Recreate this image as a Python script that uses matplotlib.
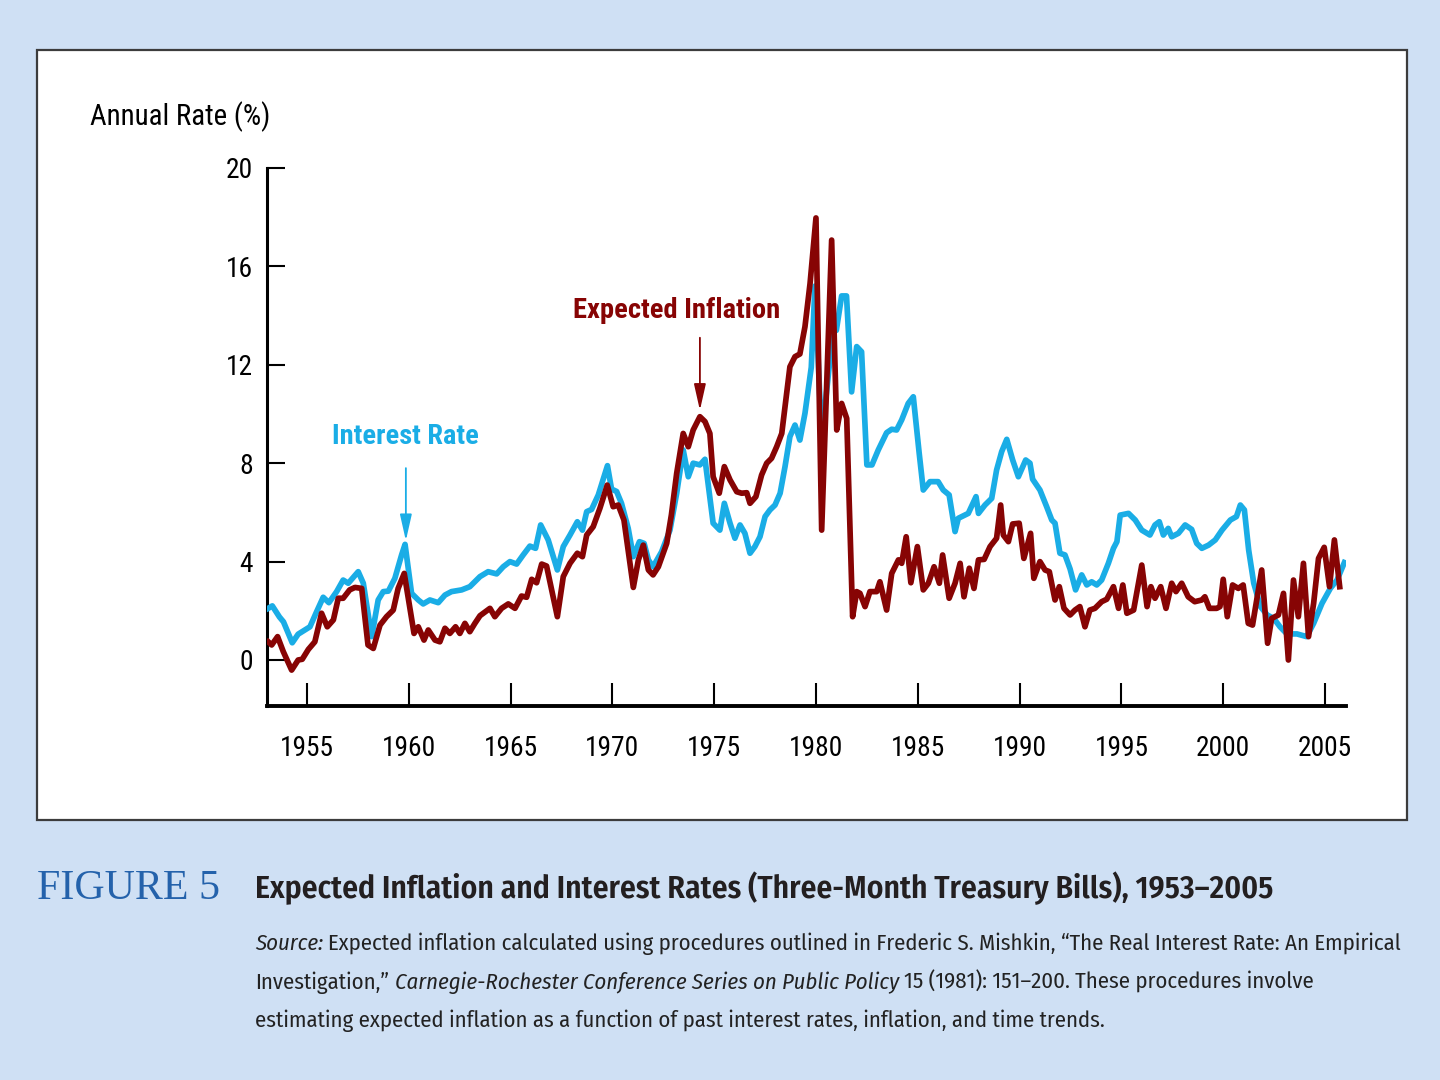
import matplotlib
matplotlib.use("Agg")
import matplotlib.pyplot as plt
from matplotlib import font_manager
from matplotlib.patches import Rectangle

# three-month T-bill rate (year, %)
int_years = [1953.1, 1953.3, 1953.65, 1953.85, 1954.28, 1954.57, 1955.15, 1955.47, 1955.8, 1956.08,
             1956.46, 1956.78, 1957.03, 1957.52, 1957.77, 1958.18, 1958.5, 1958.75, 1959.0, 1959.32,
             1959.65, 1959.82, 1960.14, 1960.47, 1960.71, 1961.04, 1961.45, 1961.78, 1962.1, 1962.6,
             1963.0, 1963.5, 1963.9, 1964.32, 1964.64, 1964.97, 1965.3, 1965.62, 1965.95, 1966.23,
             1966.48, 1966.85, 1967.3, 1967.59, 1967.92, 1968.28, 1968.53, 1968.74, 1968.98, 1969.31,
             1969.76, 1969.96, 1970.21, 1970.45, 1970.78, 1971.03, 1971.33, 1971.56, 1971.77, 1972.0,
             1972.42, 1972.83, 1973.16, 1973.48, 1973.73, 1973.97, 1974.3, 1974.55, 1974.95, 1975.28,
             1975.5, 1975.78, 1976.02, 1976.27, 1976.51, 1976.76, 1977.0, 1977.25, 1977.5, 1977.74,
             1977.99, 1978.24, 1978.48, 1978.72, 1978.97, 1979.21, 1979.46, 1979.77, 1979.95, 1980.28,
             1980.85, 1981.0, 1981.26, 1981.5, 1981.75, 1982.0, 1982.24, 1982.5, 1982.75, 1983.06,
             1983.47, 1983.72, 1983.96, 1984.21, 1984.53, 1984.78, 1985.07, 1985.27, 1985.6, 1986.0,
             1986.25, 1986.54, 1986.83, 1986.99, 1987.48, 1987.86, 1987.98, 1988.3, 1988.63, 1988.87,
             1989.12, 1989.37, 1989.66, 1989.94, 1990.3, 1990.51, 1990.64, 1991.0, 1991.33, 1991.58,
             1991.74, 1991.98, 1992.23, 1992.48, 1992.75, 1993.05, 1993.3, 1993.54, 1993.79, 1994.03,
             1994.36, 1994.61, 1994.78, 1994.94, 1995.35, 1995.68, 1996.0, 1996.4, 1996.65, 1996.86,
             1997.06, 1997.3, 1997.47, 1997.8, 1998.13, 1998.45, 1998.7, 1998.95, 1999.28, 1999.61,
             1999.94, 2000.35, 2000.65, 2000.84, 2001.04, 2001.25, 2001.5, 2001.83, 2002.16, 2002.48,
             2002.79, 2003.13, 2003.62, 2004.1, 2004.44, 2004.85, 2005.26, 2005.59, 2005.95]
int_rate = [2.10, 2.20, 1.75, 1.55, 0.70, 1.05, 1.35, 1.95, 2.55, 2.33,
            2.78, 3.25, 3.12, 3.59, 3.12, 0.95, 2.44, 2.78, 2.80, 3.32,
            4.27, 4.70, 2.71, 2.44, 2.28, 2.44, 2.33, 2.64, 2.78, 2.85,
            2.98, 3.39, 3.59, 3.50, 3.79, 4.00, 3.90, 4.27, 4.63, 4.54,
            5.49, 4.88, 3.66, 4.61, 5.08, 5.62, 5.28, 6.03, 6.12, 6.71,
            7.90, 6.95, 6.85, 6.37, 5.35, 4.20, 4.81, 4.74, 4.07, 3.79,
            4.40, 5.28, 6.78, 8.54, 7.45, 8.00, 7.93, 8.16, 5.56, 5.28,
            6.37, 5.56, 4.95, 5.49, 5.15, 4.34, 4.61, 5.01, 5.83, 6.10,
            6.30, 6.78, 7.86, 9.08, 9.55, 8.94, 10.03, 11.90, 15.20, 9.00,
            13.50, 13.40, 14.80, 14.80, 10.90, 12.74, 12.53, 7.93, 7.93, 8.54,
            9.24, 9.38, 9.35, 9.76, 10.43, 10.70, 8.40, 6.91, 7.25, 7.25,
            6.91, 6.71, 5.22, 5.76, 5.96, 6.64, 5.96, 6.30, 6.57, 7.72,
            8.47, 8.97, 8.13, 7.45, 8.13, 8.00, 7.35, 6.91, 6.23, 5.69,
            5.56, 4.34, 4.27, 3.70, 2.85, 3.46, 3.05, 3.18, 3.05, 3.25,
            3.93, 4.54, 4.81, 5.89, 5.96, 5.69, 5.28, 5.08, 5.49, 5.62,
            5.08, 5.35, 5.01, 5.15, 5.49, 5.31, 4.74, 4.54, 4.67, 4.88,
            5.28, 5.69, 5.83, 6.30, 6.10, 4.47, 3.12, 2.17, 1.83, 1.69,
            1.35, 1.06, 1.06, 0.95, 1.49, 2.30, 2.91, 3.25, 3.96]

# expected inflation (year, %)
inf_years = [1953.1, 1953.27, 1953.56, 1953.84, 1954.25, 1954.57, 1954.77, 1955.07, 1955.39, 1955.72,
             1956.0, 1956.3, 1956.54, 1956.78, 1957.1, 1957.36, 1957.69, 1958.0, 1958.26, 1958.59,
             1958.91, 1959.24, 1959.48, 1959.78, 1960.26, 1960.47, 1960.75, 1960.96, 1961.29, 1961.53,
             1961.78, 1962.02, 1962.3, 1962.51, 1962.76, 1963.0, 1963.25, 1963.5, 1963.99, 1964.23,
             1964.56, 1964.89, 1965.22, 1965.54, 1965.79, 1966.04, 1966.28, 1966.53, 1966.77, 1967.3,
             1967.59, 1967.92, 1968.28, 1968.53, 1968.74, 1969.06, 1969.39, 1969.75, 1970.04, 1970.29,
             1970.57, 1971.03, 1971.28, 1971.52, 1971.77, 1972.0, 1972.26, 1972.67, 1972.9, 1973.16,
             1973.48, 1973.73, 1973.97, 1974.3, 1974.55, 1974.79, 1974.95, 1975.25, 1975.5, 1975.78,
             1976.11, 1976.35, 1976.6, 1976.76, 1977.05, 1977.33, 1977.58, 1977.82, 1978.07, 1978.32,
             1978.48, 1978.72, 1978.97, 1979.21, 1979.46, 1979.71, 1980.0, 1980.28, 1980.77, 1981.02,
             1981.26, 1981.51, 1981.8, 1982.0, 1982.16, 1982.41, 1982.65, 1982.98, 1983.14, 1983.47,
             1983.72, 1984.05, 1984.21, 1984.43, 1984.66, 1984.98, 1985.27, 1985.52, 1985.8, 1986.06,
             1986.22, 1986.54, 1986.83, 1987.08, 1987.27, 1987.53, 1987.76, 1987.98, 1988.26, 1988.55,
             1988.87, 1989.07, 1989.2, 1989.45, 1989.66, 1989.98, 1990.21, 1990.54, 1990.7, 1991.0,
             1991.25, 1991.46, 1991.74, 1991.95, 1992.18, 1992.48, 1992.72, 1992.96, 1993.21, 1993.45,
             1993.7, 1994.03, 1994.28, 1994.61, 1994.86, 1995.07, 1995.27, 1995.6, 1996.0, 1996.26,
             1996.45, 1996.65, 1996.93, 1997.19, 1997.47, 1997.68, 1997.96, 1998.28, 1998.6, 1998.95,
             1999.1, 1999.32, 1999.68, 1999.84, 2000.0, 2000.2, 2000.46, 2000.74, 2000.98, 2001.23,
             2001.44, 2001.89, 2002.18, 2002.38, 2002.71, 2002.96, 2003.2, 2003.45, 2003.69, 2003.94,
             2004.19, 2004.44, 2004.68, 2004.96, 2005.22, 2005.46, 2005.72]
inf_rate = [0.74, 0.61, 0.95, 0.34, -0.41, 0.00, 0.03, 0.43, 0.74, 1.90,
            1.35, 1.63, 2.51, 2.51, 2.85, 2.95, 2.91, 0.61, 0.47, 1.42,
            1.76, 2.03, 2.91, 3.52, 1.08, 1.35, 0.81, 1.22, 0.81, 0.74,
            1.29, 1.08, 1.35, 1.08, 1.49, 1.15, 1.49, 1.80, 2.10, 1.76,
            2.10, 2.28, 2.10, 2.60, 2.55, 3.28, 3.14, 3.90, 3.82, 1.76,
            3.39, 3.93, 4.34, 4.20, 5.08, 5.42, 6.17, 7.11, 6.23, 6.30,
            5.69, 2.95, 4.07, 4.67, 3.66, 3.46, 3.79, 4.74, 5.90, 7.59,
            9.21, 8.67, 9.35, 9.89, 9.69, 9.21, 7.45, 6.78, 7.86, 7.32,
            6.84, 6.78, 6.80, 6.37, 6.64, 7.52, 8.00, 8.20, 8.67, 9.21,
            10.30, 11.92, 12.33, 12.44, 13.55, 15.31, 17.97, 5.28, 17.07, 9.35,
            10.43, 9.82, 1.76, 2.78, 2.71, 2.17, 2.78, 2.78, 3.18, 2.03,
            3.52, 4.07, 3.93, 5.01, 3.14, 4.61, 2.85, 3.12, 3.79, 3.12,
            4.27, 2.51, 3.12, 3.93, 2.57, 3.73, 2.91, 4.07, 4.09, 4.61,
            4.95, 6.30, 5.08, 4.81, 5.53, 5.56, 4.13, 5.15, 3.32, 4.00,
            3.66, 3.59, 2.44, 2.98, 2.10, 1.83, 2.03, 2.17, 1.35, 2.03,
            2.10, 2.37, 2.47, 2.98, 2.10, 3.05, 1.90, 2.03, 3.86, 2.17,
            2.98, 2.51, 2.98, 2.10, 3.12, 2.78, 3.12, 2.57, 2.37, 2.44,
            2.57, 2.10, 2.10, 2.17, 3.28, 1.76, 3.05, 2.91, 3.05, 1.49,
            1.42, 3.66, 0.68, 1.69, 1.83, 2.71, 0.00, 3.25, 1.76, 3.93,
            0.95, 2.30, 4.13, 4.58, 2.98, 4.88, 2.98]

x_ticks = [1955, 1960, 1965, 1970, 1975, 1980, 1985, 1990, 1995, 2000, 2005]
y_ticks = [0, 4, 8, 12, 16, 20]

BLUE = "#1aade6"
RED = "#870404"
BG = "#cfe0f4"
INK = "#222222"

names = {f.name for f in font_manager.fontManager.ttflist}


def first_font(*cands):
    for c in cands:
        if c in names:
            return c
    return "DejaVu Sans"


CHART_FONT = first_font("Roboto Condensed", "Archivo Narrow", "Liberation Sans")
CAP_FONT = first_font("Fira Sans Condensed", "PT Sans Narrow", "Roboto Condensed", "Liberation Sans")
SERIF = first_font("Liberation Serif", "DejaVu Serif")

W, H = 1440, 1080


def fx(px):
    return px / W


def fy(py):
    return 1 - py / H


fig = plt.figure(figsize=(14.4, 10.8), dpi=100)
fig.patch.set_facecolor(BG)
renderer = fig.canvas.get_renderer()


def text_width(s, size, family, weight="normal", style="normal"):
    t = fig.text(0, 0, s, fontsize=size, family=family, fontweight=weight, fontstyle=style)
    w = t.get_window_extent(renderer=renderer).width
    t.remove()
    return w


def size_for(s, target, family, weight="normal", size0=20):
    return size0 * target / text_width(s, size0, family, weight)


# white chart panel
fig.add_artist(Rectangle((fx(37), fy(820)), fx(1407) - fx(37), fy(50) - fy(820),
                         transform=fig.transFigure, facecolor="white",
                         edgecolor="#3c3c3c", lw=1.6, zorder=0))

ax = fig.add_axes([fx(267), fy(706), fx(1346) - fx(267), fy(168) - fy(706)])
ax.set_facecolor("white")
ax.plot(int_years, int_rate, color=BLUE, lw=4.1, solid_joinstyle="round", zorder=3)
ax.plot(inf_years, inf_rate, color=RED, lw=4.1, solid_joinstyle="round", zorder=4)

ax.set_xlim(1953.04, 2006.03)
ax.set_ylim(-1.87, 20)
ax.set_xticks(x_ticks)
ax.set_yticks(y_ticks)
for side in ["top", "right"]:
    ax.spines[side].set_visible(False)
ax.spines["left"].set_linewidth(2.2)
ax.spines["bottom"].set_linewidth(2.8)
tick_size = size_for("1955", 54, CHART_FONT)
ax.tick_params(axis="y", direction="in", length=13, width=1.5, pad=10, labelsize=tick_size)
ax.tick_params(axis="x", direction="in", length=16.5, width=1.5, pad=21, labelsize=tick_size)
for lab in ax.get_xticklabels() + ax.get_yticklabels():
    lab.set_fontfamily(CHART_FONT)

fig.text(fx(90), fy(125), "Annual Rate (%)", fontsize=size_for("Annual Rate (%)", 180, CHART_FONT),
         family=CHART_FONT, color="black", ha="left", va="baseline")

# labels with arrows
arrow_style = "-|>,head_length=0.8,head_width=0.18"
ax.annotate("", xy=(1959.86, 4.85), xytext=(1959.86, 7.8),
            arrowprops=dict(arrowstyle=arrow_style, color=BLUE, lw=1.3,
                            mutation_scale=20, shrinkA=0, shrinkB=0))
ax.text(1959.86, 9.1, "Interest Rate", color=BLUE,
        fontsize=size_for("Interest Rate", 146, CHART_FONT, "bold"), fontweight="bold",
        family=CHART_FONT, ha="center", va="center")
ax.annotate("", xy=(1974.3, 10.15), xytext=(1974.3, 13.1),
            arrowprops=dict(arrowstyle=arrow_style, color=RED, lw=1.3,
                            mutation_scale=20, shrinkA=0, shrinkB=0))
ax.text(1973.17, 14.2, "Expected Inflation", color=RED,
        fontsize=size_for("Expected Inflation", 206, CHART_FONT, "bold"), fontweight="bold",
        family=CHART_FONT, ha="center", va="center")

# caption
fig.text(fx(37), fy(899), "FIGURE 5", fontsize=size_for("FIGURE 5", 183, SERIF),
         family=SERIF, color="#2462ab", ha="left", va="baseline")


def draw_parts(x0, base, parts, size, weight="normal", color=INK):
    space_w = text_width("a a", size, CAP_FONT, weight) - text_width("aa", size, CAP_FONT, weight)
    x = x0
    for txt, style in parts:
        if txt.startswith(" "):
            x += space_w
            txt = txt.lstrip()
        t = fig.text(fx(x), fy(base), txt, fontsize=size, family=CAP_FONT, fontstyle=style,
                     fontweight=weight, color=color, ha="left", va="baseline")
        x += t.get_window_extent(renderer=renderer).width
    return x - x0


def parts_width(parts, size, weight="normal"):
    space_w = text_width("a a", size, CAP_FONT, weight) - text_width("aa", size, CAP_FONT, weight)
    w = 0
    for txt, style in parts:
        if txt.startswith(" "):
            w += space_w
        w += text_width(txt.lstrip(), size, CAP_FONT, weight, style)
    return w


title = [("Expected Inflation and Interest Rates (Three-Month Treasury Bills), 1953\u20132005", "normal")]
title_size = 24 * 1018 / parts_width(title, 24, "semibold")
draw_parts(255, 898, title, title_size, weight="semibold", color="#231f20")

line1 = [("Source:", "italic"),
         (" Expected inflation calculated using procedures outlined in Frederic S. Mishkin, "
          "\u201cThe Real Interest Rate: An Empirical", "normal")]
line2 = [("Investigation,\u201d", "normal"),
         (" Carnegie-Rochester Conference Series on Public Policy", "italic"),
         (" 15 (1981): 151\u2013200. These procedures involve", "normal")]
line3 = [("estimating expected inflation as a function of past interest rates, inflation, "
          "and time trends.", "normal")]
src_size = 16 * 1150 / parts_width(line1, 16, "normal")
draw_parts(255, 950, line1, src_size)
draw_parts(255, 989, line2, src_size)
draw_parts(255, 1027, line3, src_size)

fig.savefig("out.png", dpi=100, facecolor=BG)
